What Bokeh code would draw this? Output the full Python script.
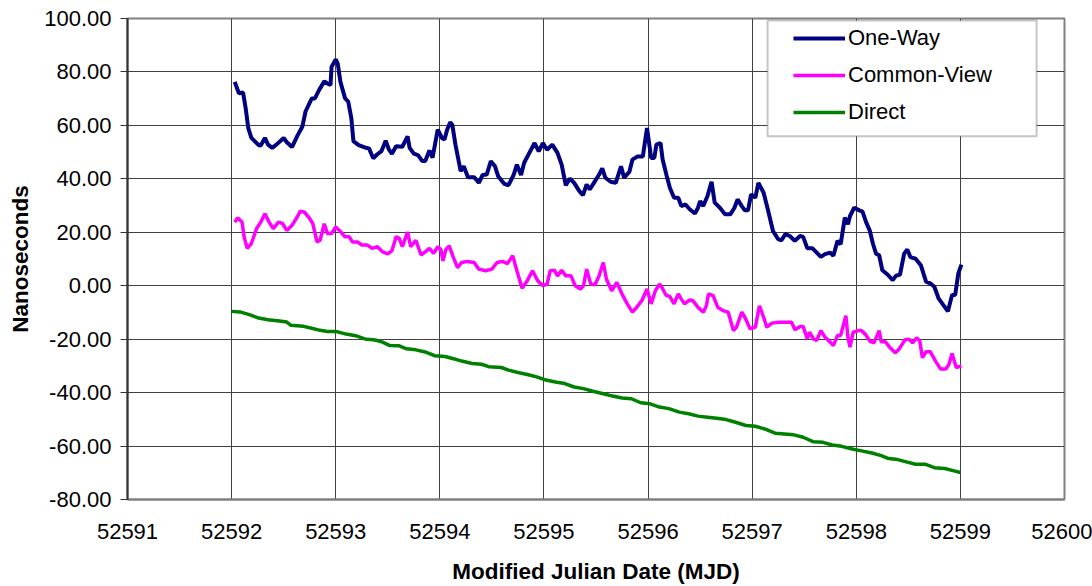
from bokeh.plotting import figure
from bokeh.models import Range1d, FixedTicker, NumeralTickFormatter, Legend, LegendItem, BoxAnnotation
from bokeh.embed import file_html
from bokeh.resources import INLINE

# ---------------- data ----------------
ow_mjd = [52592.03, 52592.07, 52592.11, 52592.135, 52592.16, 52592.19, 52592.26, 52592.28, 52592.32, 52592.35,
          52592.39, 52592.43, 52592.50, 52592.53, 52592.58, 52592.63, 52592.68, 52592.71, 52592.77, 52592.80,
          52592.84, 52592.89, 52592.92, 52592.95, 52592.96, 52593.00, 52593.02, 52593.045, 52593.09, 52593.12,
          52593.15, 52593.17, 52593.22, 52593.29, 52593.32, 52593.36, 52593.40, 52593.44, 52593.48, 52593.51,
          52593.54, 52593.58, 52593.64, 52593.69, 52593.71, 52593.75, 52593.79, 52593.83, 52593.86, 52593.90,
          52593.93, 52593.98, 52594.02, 52594.045, 52594.07, 52594.10, 52594.12, 52594.15, 52594.20, 52594.23,
          52594.27, 52594.33, 52594.375, 52594.41, 52594.45, 52594.49, 52594.53, 52594.56, 52594.62, 52594.66,
          52594.71, 52594.74, 52594.78, 52594.81, 52594.86, 52594.91, 52594.95, 52594.99, 52595.03, 52595.08,
          52595.13, 52595.17, 52595.21, 52595.25, 52595.29, 52595.34, 52595.375, 52595.41, 52595.44, 52595.48,
          52595.53, 52595.56, 52595.59, 52595.64, 52595.69, 52595.74, 52595.77, 52595.82, 52595.85, 52595.90,
          52595.95, 52595.99, 52596.03, 52596.06, 52596.08, 52596.12, 52596.14, 52596.18, 52596.21, 52596.25,
          52596.29, 52596.32, 52596.36, 52596.40, 52596.45, 52596.48, 52596.50, 52596.53, 52596.57, 52596.61,
          52596.64, 52596.69, 52596.74, 52596.79, 52596.83, 52596.86, 52596.90, 52596.93, 52596.96, 52596.99,
          52597.03, 52597.06, 52597.11, 52597.15, 52597.20, 52597.25, 52597.28, 52597.32, 52597.36, 52597.41,
          52597.46, 52597.49, 52597.53, 52597.58, 52597.62, 52597.66, 52597.70, 52597.75, 52597.78, 52597.82,
          52597.85, 52597.89, 52597.92, 52597.94, 52597.98, 52598.03, 52598.06, 52598.095, 52598.13, 52598.16,
          52598.19, 52598.22, 52598.25, 52598.30, 52598.35, 52598.38, 52598.42, 52598.46, 52598.49, 52598.52,
          52598.57, 52598.62, 52598.67, 52598.71, 52598.75, 52598.79, 52598.83, 52598.88, 52598.92, 52598.95,
          52598.98, 52599.01]
ow_ns = [76.3, 72.0, 72.3, 66.4, 59.0, 55.3, 52.6, 52.5, 55.3, 52.8,
         51.6, 52.8, 55.3, 53.7, 51.9, 56.0, 59.6, 65.2, 70.1, 70.1,
         73.2, 76.5, 75.7, 75.1, 81.9, 84.7, 83.0, 76.3, 70.1, 68.9,
         62.7, 54.1, 52.6, 51.6, 51.4, 47.7, 49.2, 50.4, 54.3, 51.0,
         49.4, 52.2, 52.0, 55.9, 51.6, 49.4, 48.9, 46.7, 46.7, 50.6,
         47.9, 58.4, 55.3, 54.7, 58.4, 61.2, 60.2, 52.8, 42.9, 44.7,
         40.6, 40.6, 38.5, 41.4, 41.6, 46.6, 44.7, 41.0, 38.1, 37.6,
         41.6, 45.3, 41.4, 46.0, 49.7, 53.4, 50.3, 53.4, 50.9, 52.8,
         49.7, 45.3, 37.6, 40.1, 38.5, 35.4, 33.9, 37.9, 36.0, 38.5,
         41.6, 43.9, 40.4, 38.9, 38.5, 44.7, 40.4, 42.6, 47.2, 48.4,
         48.4, 59.0, 47.8, 47.8, 52.8, 53.4, 47.2, 41.0, 36.6, 32.9,
         32.9, 29.8, 30.4, 28.6, 27.0, 29.2, 31.7, 29.8, 33.5, 38.9,
         31.1, 29.2, 26.7, 26.7, 29.2, 32.3, 29.8, 28.2, 28.2, 34.2,
         32.9, 38.5, 34.8, 28.6, 20.5, 17.4, 17.0, 19.3, 18.6, 16.8,
         18.6, 18.3, 14.0, 14.0, 12.4, 10.8, 11.8, 12.4, 11.2, 16.8,
         15.5, 25.5, 23.0, 26.1, 29.2, 28.2, 27.7, 23.7, 20.6, 15.7,
         12.0, 11.4, 5.8, 4.2, 2.1, 3.7, 4.2, 12.0, 13.6, 10.7,
         10.1, 7.7, 1.5, 0.9, -0.4, -4.7, -6.9, -9.6, -3.5, -3.5,
         4.6, 7.9]

cv_mjd = [52592.03, 52592.06, 52592.10, 52592.12, 52592.15, 52592.19, 52592.24, 52592.28, 52592.32, 52592.36,
          52592.40, 52592.45, 52592.49, 52592.53, 52592.58, 52592.63, 52592.66, 52592.70, 52592.74, 52592.78,
          52592.82, 52592.85, 52592.89, 52592.92, 52592.96, 52593.00, 52593.05, 52593.09, 52593.13, 52593.16,
          52593.21, 52593.25, 52593.30, 52593.35, 52593.40, 52593.45, 52593.50, 52593.54, 52593.58, 52593.61,
          52593.64, 52593.69, 52593.72, 52593.77, 52593.82, 52593.86, 52593.90, 52593.94, 52593.98, 52594.01,
          52594.03, 52594.06, 52594.09, 52594.13, 52594.17, 52594.21, 52594.26, 52594.33, 52594.375, 52594.44,
          52594.50, 52594.55, 52594.60, 52594.65, 52594.70, 52594.74, 52594.79, 52594.84, 52594.89, 52594.94,
          52594.99, 52595.03, 52595.06, 52595.10, 52595.13, 52595.17, 52595.21, 52595.26, 52595.30, 52595.35,
          52595.38, 52595.41, 52595.45, 52595.49, 52595.53, 52595.57, 52595.60, 52595.65, 52595.70, 52595.75,
          52595.80, 52595.85, 52595.89, 52595.94, 52595.99, 52596.03, 52596.07, 52596.11, 52596.13, 52596.17,
          52596.21, 52596.25, 52596.29, 52596.32, 52596.35, 52596.40, 52596.43, 52596.48, 52596.53, 52596.56,
          52596.58, 52596.625, 52596.67, 52596.72, 52596.77, 52596.82, 52596.85, 52596.90, 52596.93, 52596.98,
          52597.03, 52597.07, 52597.11, 52597.14, 52597.19, 52597.25, 52597.38, 52597.41, 52597.46, 52597.49,
          52597.53, 52597.55, 52597.59, 52597.62, 52597.66, 52597.70, 52597.75, 52597.78, 52597.82, 52597.85,
          52597.90, 52597.92, 52597.94, 52597.97, 52598.02, 52598.05, 52598.09, 52598.13, 52598.17, 52598.22,
          52598.24, 52598.28, 52598.32, 52598.375, 52598.41, 52598.47, 52598.51, 52598.54, 52598.58, 52598.61,
          52598.635, 52598.67, 52598.71, 52598.76, 52598.81, 52598.86, 52598.89, 52598.92, 52598.96, 52599.01]
cv_ns = [23.8, 25.4, 23.8, 18.3, 14.0, 15.8, 21.4, 23.8, 26.9, 23.8,
         21.4, 23.8, 23.2, 20.7, 22.6, 25.7, 27.9, 27.5, 25.7, 23.2,
         16.4, 17.0, 23.2, 19.5, 19.5, 22.0, 20.1, 18.3, 18.3, 16.4,
         16.4, 15.2, 15.2, 14.0, 14.6, 12.7, 11.9, 13.1, 18.3, 17.7,
         14.6, 20.1, 14.6, 17.0, 11.5, 12.7, 14.0, 12.1, 14.6, 13.5,
         9.3, 13.7, 14.9, 10.6, 6.8, 8.7, 9.1, 8.7, 6.2, 5.6,
         6.2, 8.7, 9.1, 8.3, 11.2, 5.6, -0.9, 1.9, 5.6, 1.9,
         0.0, 0.6, 5.6, 5.8, 3.7, 5.8, 3.7, 3.7, 0.0, -1.2,
         0.0, 6.2, 0.6, 0.4, 3.7, 8.7, 2.5, -1.9, 1.2, -3.1,
         -6.8, -9.9, -8.1, -5.6, -1.2, -6.8, -1.9, 0.6, -0.4, -3.4,
         -4.1, -6.8, -3.1, -5.0, -6.8, -5.3, -5.6, -8.1, -9.9, -7.5,
         -3.1, -3.7, -8.1, -9.3, -9.9, -16.8, -15.5, -9.9, -11.8, -16.1,
         -15.5, -7.5, -11.8, -15.5, -14.0, -13.7, -13.7, -16.5, -15.3, -15.3,
         -19.9, -17.4, -19.9, -20.5, -16.8, -19.3, -21.1, -22.4, -18.6, -18.6,
         -11.2, -19.3, -23.0, -17.4, -16.8, -16.8, -18.3, -20.7, -21.4, -16.8,
         -21.0, -21.0, -23.0, -25.1, -23.8, -20.1, -20.1, -21.4, -19.5, -20.7,
         -26.9, -24.7, -24.7, -28.1, -31.2, -31.2, -29.4, -25.4, -30.6, -30.0]

dir_mjd = [52592.00, 52592.08, 52592.17, 52592.26, 52592.35, 52592.44, 52592.53, 52592.57, 52592.69, 52592.76,
           52592.85, 52592.92, 52593.00, 52593.10, 52593.19, 52593.28, 52593.38, 52593.45, 52593.52, 52593.61,
           52593.68, 52593.77, 52593.87, 52593.95, 52594.05, 52594.14, 52594.21, 52594.31, 52594.40, 52594.47,
           52594.59, 52594.66, 52594.75, 52594.84, 52594.93, 52595.02, 52595.11, 52595.20, 52595.29, 52595.38,
           52595.47, 52595.57, 52595.66, 52595.75, 52595.84, 52595.93, 52596.02, 52596.11, 52596.20, 52596.30,
           52596.39, 52596.48, 52596.57, 52596.66, 52596.75, 52596.84, 52596.94, 52597.03, 52597.12, 52597.22,
           52597.31, 52597.40, 52597.49, 52597.59, 52597.68, 52597.77, 52597.86, 52597.96, 52598.05, 52598.15,
           52598.24, 52598.31, 52598.38, 52598.48, 52598.57, 52598.66, 52598.75, 52598.85, 52598.94, 52599.00]
dir_ns = [-9.6, -9.8, -10.8, -12.1, -12.7, -13.1, -13.6, -14.8, -15.2, -15.8,
          -16.7, -17.1, -17.1, -18.1, -18.7, -19.9, -20.3, -21.1, -22.4, -22.5,
          -23.6, -24.0, -24.9, -26.2, -26.5, -27.4, -28.2, -29.1, -29.4, -30.3,
          -30.6, -31.6, -32.5, -33.2, -34.1, -35.3, -36.0, -36.6, -37.9, -38.5,
          -39.5, -40.4, -41.3, -42.0, -42.3, -43.8, -44.2, -45.4, -46.0, -47.3,
          -47.9, -48.8, -49.2, -49.6, -50.1, -51.1, -52.3, -52.6, -53.6, -55.2,
          -55.5, -55.8, -56.7, -58.4, -58.6, -59.6, -60.1, -61.1, -61.8, -62.6,
          -63.6, -64.7, -64.9, -65.9, -66.8, -66.8, -68.1, -68.4, -69.3, -69.9]

series_names = ["One-Way", "Common-View", "Direct"]
series_colors = ["#000080", "#FF00FF", "#008000"]
x_ticks = list(range(52591, 52601))
y_ticks = list(range(-80, 101, 20))

FONT = "Liberation Sans"

p = figure(width=1092, height=586, output_backend="svg", toolbar_location=None,
           x_range=Range1d(52591, 52600), y_range=Range1d(-80, 100),
           min_border_left=127, min_border_right=28, min_border_top=18, min_border_bottom=86)
p.background_fill_color = "white"
p.border_fill_color = "white"
p.outline_line_color = "#808080"
p.outline_line_width = 2

# legend frame (drawn first so it sits under the legend entries)
legend_box = BoxAnnotation(left=52597.148, right=52599.732, top=99.25, bottom=55.94,
                           fill_color="white", fill_alpha=1.0, line_color="#404040", line_width=2,
                           level="annotation")
p.add_layout(legend_box)

r_ow = p.line(ow_mjd, ow_ns, line_color=series_colors[0], line_width=4)
r_cv = p.line(cv_mjd, cv_ns, line_color=series_colors[1], line_width=3.5)
r_dir = p.line(dir_mjd, dir_ns, line_color=series_colors[2], line_width=3.5)

# axes
p.xaxis.ticker = FixedTicker(ticks=x_ticks)
p.yaxis.ticker = FixedTicker(ticks=y_ticks)
p.yaxis.formatter = NumeralTickFormatter(format="0.00")
for ax in (p.xaxis[0], p.yaxis[0]):
    ax.major_label_text_font = FONT
    ax.major_label_text_font_size = "22px"
    ax.major_label_text_color = "black"
    ax.axis_label_text_font = FONT
    ax.axis_label_text_font_size = "22.5px"
    ax.axis_label_text_font_style = "bold"
    ax.axis_label_text_color = "black"
    ax.minor_tick_line_color = None
p.xaxis.axis_label = "Modified Julian Date (MJD)"
p.yaxis.axis_label = "Nanoseconds"
p.xaxis.major_tick_out = 0
p.xaxis.major_tick_in = 0
p.xaxis.axis_line_color = "#808080"
p.xaxis.axis_line_width = 2
p.xaxis.major_label_standoff = 24
p.xaxis.axis_label_standoff = 17
p.yaxis.major_tick_out = 7
p.yaxis.major_tick_in = 0
p.yaxis.major_tick_line_color = "#333333"
p.yaxis.axis_line_color = "#333333"
p.yaxis.axis_line_width = 2
p.yaxis.major_label_standoff = 9
p.yaxis.axis_label_standoff = 8

# grid
p.xgrid.grid_line_color = "#404040"
p.ygrid.grid_line_color = "#404040"
p.xgrid.grid_line_width = 1
p.ygrid.grid_line_width = 1

legend = Legend(items=[LegendItem(label=series_names[0], renderers=[r_ow]),
                       LegendItem(label=series_names[1], renderers=[r_cv]),
                       LegendItem(label=series_names[2], renderers=[r_dir])],
                location=(666, 369), orientation="vertical",
                label_text_font=FONT, label_text_font_size="22px", label_text_color="black",
                glyph_width=52, glyph_height=36, label_height=36, spacing=1, padding=0,
                label_standoff=3, border_line_alpha=0, background_fill_alpha=0)
p.add_layout(legend)

open("out.html", "w").write(file_html(p, INLINE))
